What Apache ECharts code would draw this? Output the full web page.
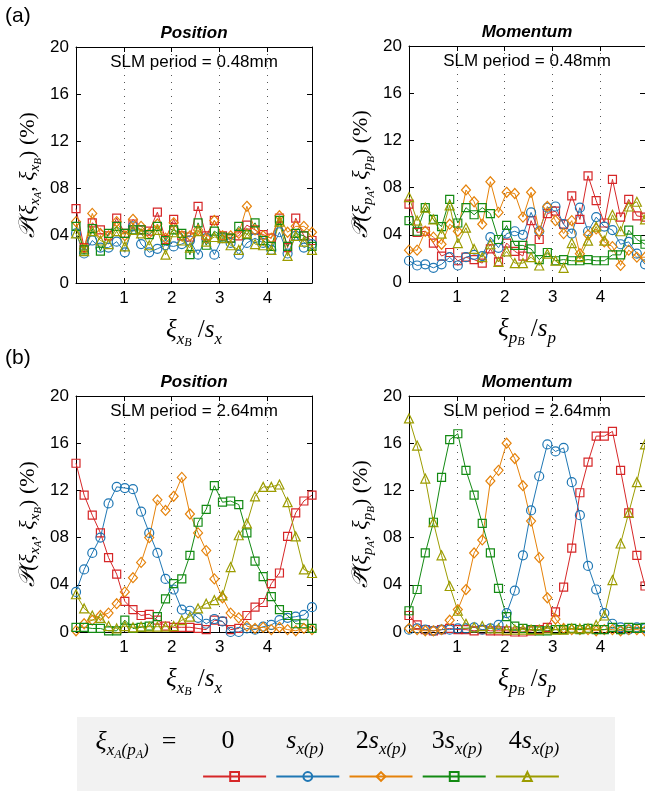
<!DOCTYPE html>
<html>
<head>
<meta charset="utf-8">
<title>Position / Momentum</title>
<script src="https://cdn.jsdelivr.net/npm/echarts@6/dist/echarts.min.js"></script>
<style>html,body{margin:0;padding:0;overflow:hidden;background:#fff}</style>
</head>
<body>
<div id="chart" style="width:660px;height:791px"></div>
<script>
// x positions (xi_B / s) shared by every curve
const xs = [0, 0.17, 0.34, 0.51, 0.68, 0.85, 1.02, 1.19, 1.36, 1.53, 1.7, 1.87, 2.04, 2.21, 2.38,
            2.55, 2.72, 2.89, 3.06, 3.23, 3.4, 3.57, 3.74, 3.91, 4.08, 4.25, 4.42, 4.59, 4.76, 4.93]

// (a) SLM period 0.48mm, position
const posA0 = [6.3,3.0,5.1,4.5,4.0,5.5,4.2,5.0,4.5,4.4,6.0,3.7,5.4,4.0,3.9,6.5,4.0,5.3,4.0,3.8,4.0,4.9,4.5,4.1,3.8,5.5,3.0,5.5,4.0,3.6]
const posA1 = [4.2,2.5,3.6,3.0,3.0,3.5,2.6,4.8,3.3,2.6,2.9,3.2,3.1,3.3,3.6,2.4,3.8,2.4,3.8,3.4,2.4,3.4,3.8,3.4,2.8,4.3,2.5,4.0,3.0,3.3]
const posA2 = [5.2,2.9,5.9,4.2,4.0,5.2,4.0,5.4,4.8,4.2,5.0,3.8,5.1,4.0,4.0,4.5,3.8,5.3,4.0,4.0,4.2,6.5,4.5,4.0,3.8,5.7,4.3,4.8,4.8,4.3]
const posA3 = [4.8,2.8,4.6,2.7,4.2,4.8,4.2,4.5,4.5,4.1,4.8,3.6,4.5,4.2,2.4,5.1,3.2,4.4,3.9,3.8,4.8,4.1,5.1,3.6,3.1,5.3,3.1,4.2,4.0,3.1]
const posA4 = [4.2,2.7,4.4,3.6,3.3,4.4,3.1,4.5,4.2,3.2,4.5,2.4,4.3,3.6,3.0,4.4,3.5,3.9,3.8,3.2,2.8,4.2,3.3,3.2,2.8,5.2,2.3,4.0,3.5,2.8]

// (a) momentum
const momA0 = [6.6,4.2,4.3,3.3,2.2,2.5,1.8,2.1,1.9,1.6,2.8,1.7,3.3,2.6,2.2,5.2,3.6,5.8,6.0,4.9,7.3,5.3,9.0,6.9,5.0,8.7,5.5,7.0,5.6,5.5]
const momA1 = [1.8,1.4,1.5,1.2,1.5,2.1,1.4,2.1,2.3,2.2,3.8,2.9,4.1,4.3,4.0,5.9,4.3,6.3,6.4,4.9,4.1,6.3,4.3,5.5,4.7,4.4,3.2,3.4,2.4,1.5]
const momA2 = [2.7,2.7,4.3,3.8,3.2,4.9,4.3,7.8,6.8,4.9,8.5,5.9,7.6,7.5,5.5,7.6,4.3,6.4,5.2,4.1,5.2,2.4,4.0,4.5,3.4,3.0,1.4,2.7,2.1,2.1]
const momA3 = [5.2,4.3,6.3,5.3,4.7,7.0,5.0,6.3,5.7,6.3,5.8,3.6,4.8,3.1,3.1,2.8,1.9,2.5,1.8,1.9,1.8,1.8,1.9,1.8,1.8,2.3,2.3,4.4,3.6,3.2]
const momA4 = [7.2,5.2,6.3,5.3,4.1,6.5,3.3,4.6,2.8,2.1,3.2,1.7,2.6,1.6,1.6,2.1,1.4,2.4,1.8,1.2,3.3,2.1,3.5,4.7,3.5,5.7,4.3,6.4,6.8,5.3]

// (b) SLM period 2.64mm, position
const posB0 = [14.3,11.6,9.9,8.4,6.3,4.9,2.6,1.9,1.4,1.5,1.0,0.5,0.4,0.4,0.4,0.3,0.2,1.0,0.9,0.2,0.3,1.4,2.1,2.5,4.1,5.0,8.1,10.1,11.1,11.6]
const posB1 = [3.4,5.3,6.7,8.0,10.9,12.3,12.2,12.1,10.2,8.4,6.7,4.5,3.6,1.9,1.8,1.2,0.7,1.1,0.9,0.0,0.0,0.3,0.2,0.45,0.6,1.0,1.2,1.3,1.45,2.1]
const posB2 = [0.1,0.7,1.0,1.4,1.6,2.4,3.4,4.6,5.9,8.0,11.2,10.3,11.5,13.1,10.0,8.4,6.9,4.5,2.9,1.6,1.2,0.5,0.3,0.4,0.2,0.4,0.2,0.1,0.3,0.2]
const posB3 = [0.4,0.4,0.3,0.3,0.1,0.1,1.0,0.3,0.4,0.5,1.3,2.8,4.1,4.5,6.5,9.3,10.4,12.4,11.0,11.1,10.8,8.4,6.0,4.7,3.0,1.9,1.4,0.7,0.7,0.3]
const posB4 = [3.2,2.0,1.4,1.2,0.5,0.3,0.5,0.4,0.45,0.45,0.45,0.45,0.5,1.0,1.3,2.0,2.4,2.7,3.1,5.5,8.2,9.2,11.5,12.3,12.3,12.5,11.0,8.1,5.3,5.0]

// (b) momentum
const momB0 = [1.4,0.6,0.2,0.1,0.2,0.3,0.2,0.2,0.1,0.2,0.1,0.1,0.1,0.0,0.0,0.1,0.2,0.4,1.7,3.8,7.1,11.8,14.4,16.6,16.6,17.0,13.7,10.1,6.5,3.9]
const momB1 = [0.2,0.3,0.2,0.1,0.2,0.2,0.3,0.3,0.4,0.2,0.3,0.6,1.6,3.5,6.5,10.3,13.2,15.9,15.3,15.6,12.7,9.9,5.6,3.6,1.6,0.7,0.4,0.2,0.4,0.3]
const momB2 = [0.3,0.2,0.1,0.1,0.2,1.0,1.9,3.6,6.7,7.8,12.8,13.7,16.0,14.7,12.4,9.4,6.3,2.9,1.1,0.3,0.2,0.2,0.2,0.1,0.2,0.2,0.1,0.2,0.2,0.1]
const momB3 = [1.8,3.6,6.7,9.3,13.1,16.3,16.8,13.7,11.6,9.2,6.7,3.7,1.3,0.5,0.3,0.2,0.1,0.1,0.2,0.2,0.3,0.2,0.3,0.2,0.2,0.4,0.2,0.4,0.3,0.4]
const momB4 = [18.1,15.8,13.0,9.3,6.5,3.9,1.8,0.7,0.4,0.5,0.3,0.3,0.2,0.2,0.2,0.2,0.2,0.3,0.2,0.2,0.3,0.3,0.3,0.6,1.4,4.4,7.5,10.1,12.7,15.9]

const yTickLabels = ['0', '04', '08', '12', '16', '20']
const xTickLabels = ['', '1', '2', '3', '4']
const names = ['0', 's', '2s', '3s', '4s']
const colors = ['#d62728', '#1f77b4', '#e5820a', '#138a13', '#9c9c00']
const symbols = ['rect', 'circle', 'diamond', 'rect', 'triangle']
const symbolSizes = [8, 9, [9, 10], 8, 9]

const panels = [
  [posA0, posA1, posA2, posA3, posA4],
  [momA0, momA1, momA2, momA3, momA4],
  [posB0, posB1, posB2, posB3, posB4],
  [momB0, momB1, momB2, momB3, momB4]
]
const boxes = [[76, 47], [409, 46], [76, 396], [409, 396]]
const W = 236, H = 236

const sans = 'Liberation Sans, Arial, Helvetica, sans-serif'
const serif = 'Liberation Serif, DejaVu Serif, serif'
// math-like rich text: main glyphs, subscripts pushed down with top padding
function mathRich(big, sub, tiny) {
  const lh = Math.round(big * 1.2)
  return {
    m: { fontFamily: serif, fontStyle: 'italic', fontSize: big, lineHeight: lh, verticalAlign: 'top' },
    u: { fontFamily: serif, fontSize: big, lineHeight: lh, verticalAlign: 'top' },
    s: { fontFamily: serif, fontStyle: 'italic', fontSize: sub, lineHeight: sub, verticalAlign: 'top',
         padding: [Math.round(lh * 0.42), 0, 0, 0] },
    t: { fontFamily: serif, fontStyle: 'italic', fontSize: tiny, lineHeight: tiny, verticalAlign: 'top',
         padding: [Math.round(lh * 0.42 + sub * 0.35), 0, 0, 0] }
  }
}
const richY = mathRich(22, 15, 11)
const richX = mathRich(25, 17, 12)
const richL = mathRich(26, 17, 12)

const grid = [], xAxis = [], yAxis = [], series = []
boxes.forEach(([l, t], g) => {
  grid.push({ left: l, top: t, width: W, height: H })
  const tick = { inside: true, length: 5, lineStyle: { color: '#000', width: 1 } }
  const line = { show: true, onZero: false, lineStyle: { color: '#000', width: 1 } }
  xAxis.push({
    gridIndex: g, type: 'value', min: 0, max: 4.93, interval: 1, position: 'bottom',
    axisLine: line, axisTick: tick,
    axisLabel: { formatter: v => xTickLabels[v] || '', color: '#000', fontSize: 17, fontFamily: sans, margin: 7, showMaxLabel: false },
    splitLine: { show: true, lineStyle: { type: [1, 6], color: '#555', width: 1 } }
  })
  xAxis.push({
    gridIndex: g, type: 'value', min: 0, max: 4.93, interval: 1, position: 'top',
    axisLine: line, axisTick: tick, axisLabel: { show: false }, splitLine: { show: false }
  })
  yAxis.push({
    gridIndex: g, type: 'value', min: 0, max: 20, interval: 4, position: 'left',
    axisLine: line, axisTick: tick,
    axisLabel: { formatter: v => yTickLabels[v / 4], color: '#000', fontSize: 17, fontFamily: sans, margin: 7 },
    splitLine: { show: false }
  })
  yAxis.push({
    gridIndex: g, type: 'value', min: 0, max: 20, interval: 4, position: 'right',
    axisLine: line, axisTick: tick, axisLabel: { show: false }, splitLine: { show: false }
  })
  panels[g].forEach((vals, c) => {
    series.push({
      type: 'line', name: names[c], xAxisIndex: 2 * g, yAxisIndex: 2 * g,
      data: xs.map((x, i) => [x, vals[i]]),
      symbol: symbols[c], symbolSize: symbolSizes[c], showAllSymbol: true,
      lineStyle: { color: colors[c], width: 1 },
      itemStyle: { color: 'rgba(255,255,255,0)', borderColor: colors[c], borderWidth: 1.2 },
      emphasis: { disabled: true }
    })
  })
})

const txt = (x, y, text, style, extra) => Object.assign({
  type: 'text', x, y,
  style: Object.assign({ text, fill: '#000', align: 'center', verticalAlign: 'middle' }, style)
}, extra || {})

const graphic = []
// legend background
graphic.push({ type: 'rect', shape: { x: 77, y: 717, width: 538, height: 80 }, style: { fill: '#f2f2f2' }, z: -10 })
graphic.push(txt(5, 16, '(a)', { fontFamily: sans, fontSize: 21, align: 'left' }))
graphic.push(txt(5, 358, '(b)', { fontFamily: sans, fontSize: 21, align: 'left' }))
const periods = ['0.48', '0.48', '2.64', '2.64']
const titles = ['Position', 'Momentum', 'Position', 'Momentum']
boxes.forEach(([l, t], g) => {
  const cx = l + W / 2
  graphic.push(txt(cx, t - 14, titles[g], { fontFamily: sans, fontSize: 17, fontWeight: 'bold', fontStyle: 'italic' }))
  graphic.push(txt(cx, t + 15, 'SLM period = ' + periods[g] + 'mm', { fontFamily: sans, fontSize: 17 }))
  const v = g % 2 === 0 ? 'x' : 'p'
  const P = g % 2 === 0 ? '𝒫' : '𝒫̃'
  graphic.push(txt(l - 46, t + H / 2 + 10,
    '{m|' + P + '(ξ}{s|' + v + '}{t|A}{u|, }{m|ξ}{s|' + v + '}{t|B}{u|) (%)}',
    { rich: richY }, { rotation: Math.PI / 2 }))
  graphic.push(txt(cx, t + H + 50,
    '{m|ξ}{s|' + v + '}{t|B}{u| /}{m|s}{s|' + v + '}',
    { rich: richX }))
})
// legend labels above legend icons
graphic.push(txt(136, 745, '{m|ξ}{s|x}{t|A}{s|(p}{t|A}{s|)}{u|  =}', { rich: richL }))
const legendLabels = ['{u|0}', '{m|s}{s|x(p)}', '{u|2}{m|s}{s|x(p)}', '{u|3}{m|s}{s|x(p)}', '{u|4}{m|s}{s|x(p)}']
const legendX = [228, 305, 381, 457, 534]
legendLabels.forEach((l, i) => graphic.push(txt(legendX[i], 744, l, { rich: richL })))

const chart = echarts.init(document.getElementById('chart'))
chart.setOption({
  animation: false,
  grid, xAxis, yAxis, series, graphic,
  legend: {
    data: names, left: 197, top: 766, itemWidth: 63, itemHeight: 11, itemGap: 8,
    formatter: () => '', selectedMode: false,
    lineStyle: { width: 2.2 }, itemStyle: { borderWidth: 2 }
  }
})
</script>
</body>
</html>
